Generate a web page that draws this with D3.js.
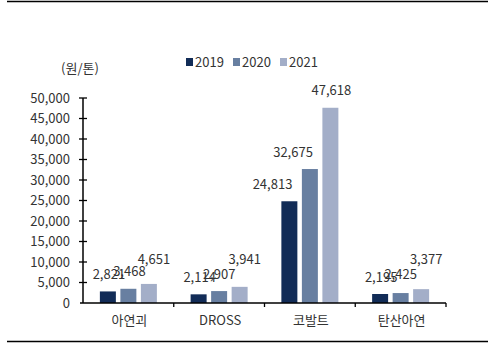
<!DOCTYPE html>
<html><head><meta charset="utf-8">
<script src="https://cdn.jsdelivr.net/npm/d3@7"></script>
<style>
html,body{margin:0;padding:0;background:#fff;}
svg{display:block;}
text{font-family:"Noto Sans CJK KR","Noto Sans",sans-serif;fill:#333;}
</style></head><body>
<svg id="c" width="494" height="344"></svg>
<script>
const categories = ["아연괴", "DROSS", "코발트", "탄산아연"];
const seriesNames = ["2019", "2020", "2021"];
const values2019 = [2821, 2114, 24813, 2195];
const values2020 = [3468, 2907, 32675, 2425];
const values2021 = [4651, 3941, 47618, 3377];
const yTicks = [0, 5000, 10000, 15000, 20000, 25000, 30000, 35000, 40000, 45000, 50000];
const unitLabel = "(원/톤)";
const colors = ["#122c57", "#687fa1", "#a3aec8"];

const seriesValues = [values2019, values2020, values2021];
const svg = d3.select("#c");
const fmt = d3.format(",");

// frame lines
svg.append("line").attr("x1",7).attr("x2",488).attr("y1",1.5).attr("y2",1.5).attr("stroke","#000").attr("stroke-width",1.5);
svg.append("line").attr("x1",7).attr("x2",488).attr("y1",341.5).attr("y2",341.5).attr("stroke","#000").attr("stroke-width",1.5);

const y = d3.scaleLinear().domain([0, 50000]).range([303, 98]);
const x0 = d3.scaleBand().domain(categories).range([83, 446]).padding(0);
const x1 = d3.scaleBand().domain(seriesNames).range([0, 57]).paddingInner(0.22).paddingOuter(0);
const off = (x0.bandwidth() - 57) / 2;

// y axis
const yAxis = svg.append("g").attr("transform","translate(83,0)");
yAxis.append("line").attr("x1",0).attr("x2",0).attr("y1",y(50000)).attr("y2",y(0)).attr("stroke","#000").attr("stroke-width",1.5);
yTicks.forEach(t => {
  if (t > 0) yAxis.append("line").attr("x1",-4).attr("x2",4).attr("y1",y(t)).attr("y2",y(t)).attr("stroke","#000").attr("stroke-width",1.3);
  yAxis.append("text").attr("x",-13).attr("y",y(t)).attr("dy","0.36em").attr("text-anchor","end")
    .style("font-size","13px").text(fmt(t));
});

// bars
seriesNames.forEach((s, si) => {
  svg.append("g").selectAll("rect").data(categories).join("rect")
    .attr("x", c => x0(c) + off + x1(s))
    .attr("y", (c, i) => y(seriesValues[si][i]))
    .attr("width", x1.bandwidth())
    .attr("height", (c, i) => y(0) - y(seriesValues[si][i]))
    .attr("fill", colors[si]);
});

// x axis
svg.append("line").attr("x1",80).attr("x2",446).attr("y1",y(0)).attr("y2",y(0)).attr("stroke","#000").attr("stroke-width",1.5);
categories.forEach((c, i) => {
  const xe = x0(c) + x0.bandwidth();
  svg.append("line").attr("x1",xe).attr("x2",xe).attr("y1",y(0)).attr("y2",y(0)+4).attr("stroke","#000").attr("stroke-width",1.3);
  svg.append("text").attr("x", x0(c) + x0.bandwidth()/2 + 1).attr("y", 320).attr("dy","0.36em")
    .attr("text-anchor","middle").style("font-size","13px").text(c);
});

// data labels (stacked near baseline for short bars, above tall bars otherwise)
const stackLift = [16, 29, 44];
const dxSmall = [-4, 0, 5];
seriesNames.forEach((s, si) => {
  categories.forEach((c, i) => {
    const v = seriesValues[si][i];
    const cx = x0(c) + off + x1(s) + x1.bandwidth()/2;
    const ly = Math.min(y(v) - 17, y(0) - stackLift[si]);
    const tall = y(v) - 17 < y(0) - stackLift[si];
    let anchor = "middle", lx = cx + (tall ? 1 : dxSmall[si]);
    if (tall && si < 2 && y(seriesValues[si+1][i]) < ly + 8) { anchor = "end"; lx = cx + 3; }
    svg.append("text").attr("x", lx).attr("y", ly).attr("dy","0.36em").attr("text-anchor", anchor)
      .style("font-size","13px").text(fmt(v));
  });
});

// unit label
svg.append("text").attr("x", 80).attr("y", 68).attr("dy","0.36em").attr("text-anchor","middle")
  .style("font-size","13px").text(unitLabel);

// legend
const legendX = [186, 233, 280];
seriesNames.forEach((s, si) => {
  svg.append("rect").attr("x", legendX[si]).attr("y", 58).attr("width", 7).attr("height", 8).attr("fill", colors[si]);
  svg.append("text").attr("x", legendX[si] + 9).attr("y", 62).attr("dy","0.36em")
    .style("font-size","13px").text(s);
});
</script>
</body></html>
